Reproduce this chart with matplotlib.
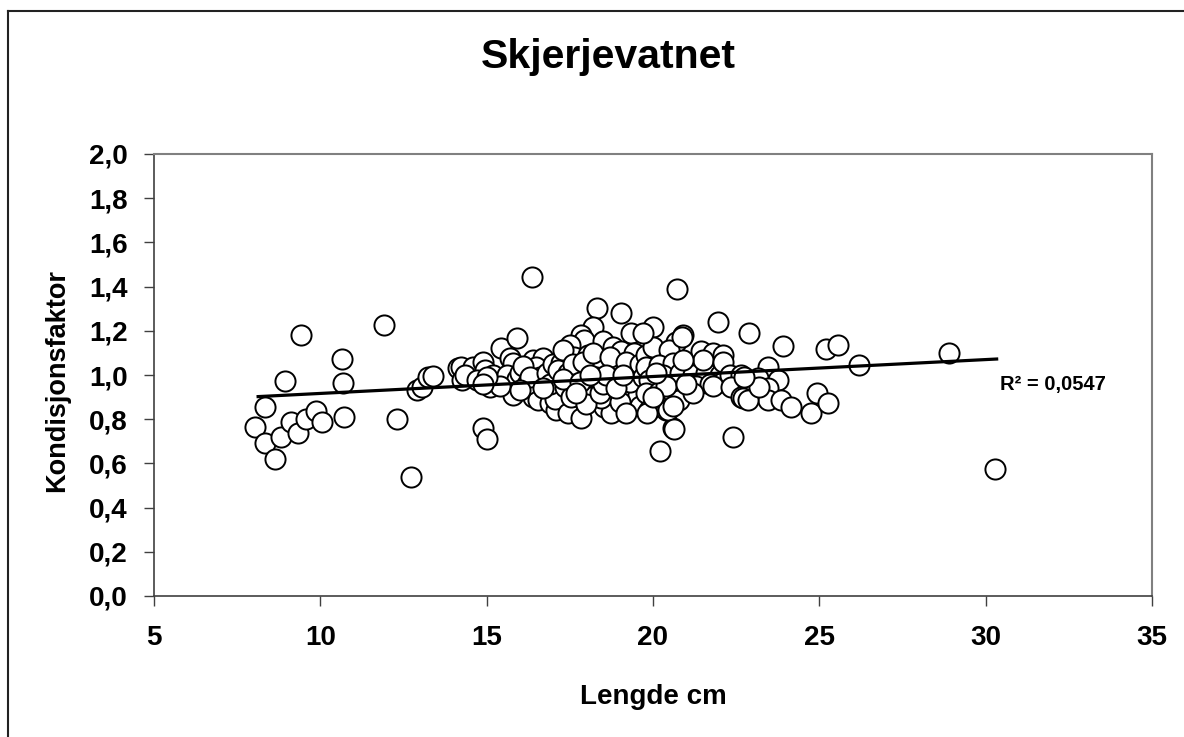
import matplotlib
matplotlib.use("Agg")
import matplotlib.pyplot as plt
from matplotlib.lines import Line2D
from matplotlib.ticker import FuncFormatter

plt.rcParams['font.family'] = ['Liberation Sans', 'DejaVu Sans']

title = "Skjerjevatnet"
x_label = "Lengde cm"
y_label = "Kondisjonsfaktor"
r2_label = "R² = 0,0547"

x_ticks = [5, 10, 15, 20, 25, 30, 35]
y_ticks = [0.0, 0.2, 0.4, 0.6, 0.8, 1.0, 1.2, 1.4, 1.6, 1.8, 2.0]

# Trendline
trend_x = [8.13, 30.33]
trend_slope = 0.00766
trend_intercept = 0.840

length_cm = [
    # sparse left group
    8.05, 8.35, 8.35, 8.65, 8.81, 8.95, 9.13, 9.33, 9.43, 9.56, 9.86, 10.06,
    10.64, 10.68, 10.71, 11.90, 12.31, 12.73, 12.92, 13.07, 13.24, 13.38,
    14.14, 14.24, 14.26,
    # 14.5 - 17
    14.59, 14.89, 14.94, 14.89, 15.02, 15.09, 15.29, 15.44, 15.69, 15.79,
    15.92, 15.79, 16.35, 16.39, 16.69, 16.49, 16.59, 16.39, 16.54, 16.89,
    17.09, 17.04, 14.36, 14.72, 15.20, 15.50, 15.60, 15.90, 16.00, 16.20,
    16.10, 16.30, 16.80, 16.90, 17.00, 16.70, 15.40, 15.00, 14.90, 16.00,
    # 17 - 20
    18.32, 19.04, 18.19, 17.84, 17.94, 19.34, 18.49, 18.79, 17.49, 17.34,
    19.04, 19.44, 17.64, 18.04, 17.24, 17.14, 18.34, 18.64, 17.44, 17.84,
    18.54, 18.74, 19.34, 17.34, 17.74, 18.14, 18.54, 18.94, 19.34, 19.64,
    17.54, 18.04, 18.44, 19.04, 19.54, 17.44, 17.94, 18.44, 18.94, 19.44,
    17.29, 17.60, 17.90, 18.20, 18.70, 19.20, 19.60, 19.80, 17.30, 17.80,
    18.30, 18.80, 19.30, 19.70, 18.00, 18.40, 19.00, 19.60, 19.20, 18.50,
    18.60, 18.90, 19.10, 17.70, 18.10,
    # 19.5 - 22.5
    21.94, 19.99, 20.89, 20.69, 19.99, 21.44, 21.79, 22.09, 20.49, 19.69,
    20.72, 20.86, 19.79, 20.19, 20.59, 20.99, 21.39, 21.79, 19.89, 20.29,
    20.69, 21.09, 21.49, 21.89, 19.79, 20.19, 20.59, 20.99, 19.89, 20.39,
    20.79, 20.59, 20.20, 20.44, 20.62, 19.81, 20.30, 20.80, 21.20, 21.60,
    22.00, 21.30, 21.70, 22.10, 20.40, 20.00, 21.20, 20.60, 21.50, 20.90,
    22.10, 22.30, 20.10, 21.00, 21.80,
    # 22.5 - 26.5
    22.90, 23.92, 23.45, 22.65, 23.15, 23.75, 22.35, 22.85, 23.45, 22.65,
    22.95, 23.45, 23.85, 24.15, 24.75, 22.40, 22.70, 22.85, 23.20, 22.75,
    24.92, 25.25, 25.20, 25.55, 26.20,
    # far right
    28.90, 30.27,
]

kondisjon = [
    0.766, 0.855, 0.692, 0.620, 0.721, 0.974, 0.786, 0.736, 1.181, 0.801, 0.839, 0.786,
    1.072, 0.964, 0.811, 1.226, 0.801, 0.538, 0.932, 0.947, 0.992, 0.995,
    1.032, 1.038, 0.977,
    1.038, 1.060, 1.023, 0.759, 0.710, 0.947, 0.977, 1.121, 1.075, 1.053,
    1.166, 0.910, 1.445, 1.068, 1.075, 1.038, 0.992, 0.902, 0.887, 0.872,
    0.842, 0.891, 1.000, 0.977, 1.000, 0.970, 1.000, 0.980, 1.010, 0.960,
    1.040, 0.990, 1.010, 0.960, 1.050, 0.940, 0.950, 0.990, 0.960, 0.930,
    1.302, 1.282, 1.219, 1.181, 1.158, 1.188, 1.152, 1.128, 1.136, 1.098,
    1.107, 1.098, 1.083, 1.090, 1.053, 1.023, 1.060, 1.053, 0.827, 0.804,
    0.857, 0.827, 0.887, 0.947, 0.932, 0.962, 0.940, 0.955, 0.932, 0.947,
    0.902, 0.902, 0.894, 0.910, 0.910, 1.008, 1.015, 1.023, 1.008, 1.015,
    1.113, 1.050, 1.060, 1.100, 1.080, 1.060, 1.050, 1.090, 0.980, 0.970,
    0.990, 0.980, 0.970, 0.990, 0.870, 0.920, 0.880, 0.860, 0.830, 0.960,
    1.000, 0.940, 1.000, 0.920, 1.000,
    1.241, 1.219, 1.181, 1.151, 1.128, 1.107, 1.098, 1.090, 1.113, 1.188,
    1.389, 1.171, 1.038, 1.045, 1.053, 1.038, 1.045, 1.038, 0.977, 0.985,
    0.977, 0.992, 0.985, 0.992, 0.917, 0.925, 0.917, 0.932, 0.842, 0.842,
    0.887, 0.759, 0.657, 0.842, 0.756, 0.827, 1.000, 1.010, 1.000, 1.010,
    1.000, 0.950, 0.960, 0.970, 0.950, 0.900, 0.920, 0.860, 1.070, 1.070,
    1.060, 1.000, 1.010, 0.960, 0.950,
    1.192, 1.131, 1.038, 1.000, 0.985, 0.977, 0.947, 0.940, 0.940, 0.902,
    0.910, 0.887, 0.887, 0.857, 0.827, 0.721, 0.894, 0.887, 0.947, 0.992,
    0.920, 0.875, 1.118, 1.136, 1.045,
    1.101, 0.575,
]

W, H = 1184, 737
fig = plt.figure(figsize=(W / 100, H / 100), dpi=100)
fig.patch.set_facecolor('white')

# outer chart border (top and left visible)
fig.add_artist(Line2D([8 / W, 1.0], [1 - 11 / H, 1 - 11 / H], transform=fig.transFigure,
                      color='#222222', lw=1.5))
fig.add_artist(Line2D([8 / W, 8 / W], [1 - 11 / H, 0.0], transform=fig.transFigure,
                      color='#222222', lw=1.5))

ax = fig.add_axes([154 / W, (H - 596) / H, (1152 - 154) / W, (596 - 154) / H])
ax.set_xlim(5, 35)
ax.set_ylim(0, 2.0)

ax.scatter(length_cm, kondisjon, s=14.5 ** 2, facecolors='white', edgecolors='black',
           linewidths=1.4, zorder=3)

trend_y = [trend_intercept + trend_slope * v for v in trend_x]
ax.plot(trend_x, trend_y, color='black', lw=2.3, zorder=4)

ax.text(30.43, 0.955, r2_label, fontsize=14.5, fontweight='bold', ha='left', va='center', zorder=5)

ax.set_xticks(x_ticks)
ax.set_yticks(y_ticks)
ax.xaxis.set_major_formatter(FuncFormatter(lambda v, p: f"{v:.0f}"))
ax.yaxis.set_major_formatter(FuncFormatter(lambda v, p: f"{v:.1f}".replace('.', ',')))
ax.tick_params(axis='both', direction='out', length=7, width=1.0, color='#404040',
               labelsize=20)
for lab in ax.get_xticklabels() + ax.get_yticklabels():
    lab.set_fontweight('bold')
ax.tick_params(axis='x', pad=14)
ax.tick_params(axis='y', pad=12)

for side in ['left', 'bottom']:
    ax.spines[side].set_color('#404040')
    ax.spines[side].set_linewidth(1.2)
for side in ['top', 'right']:
    ax.spines[side].set_color('#808080')
    ax.spines[side].set_linewidth(1.5)

fig.text(608 / W, 1 - 57 / H, title, fontsize=29.5, fontweight='bold', ha='center', va='center')
fig.text(653 / W, 1 - 697 / H, x_label, fontsize=20, fontweight='bold', ha='center', va='center')
fig.text(57 / W, 1 - 380 / H, y_label, fontsize=19.5, fontweight='bold', ha='center', va='center',
         rotation=90)

fig.savefig("out.png", dpi=100, facecolor='white')
